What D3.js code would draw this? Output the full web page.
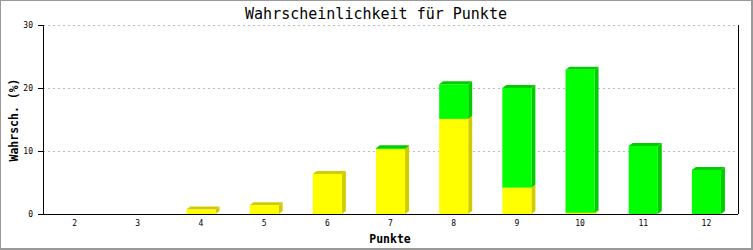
<!DOCTYPE html>
<html><head><meta charset="utf-8">
<script src="https://cdn.jsdelivr.net/npm/d3@7"></script>
<style>
body{margin:0;background:#fff}
svg{display:block}
text{font-family:"DejaVu Sans Mono",monospace}
</style></head>
<body>
<script>
const categories = ["2","3","4","5","6","7","8","9","10","11","12"];
const yellowValues = [0,0,0.7,1.4,6.35,10.3,15.1,4.2,0.2,0,0];
const greenValues  = [0,0,0,0,0,0.15,5.5,15.8,22.7,10.8,7.0];
const yTicks = [0,10,20,30];
const title = "Wahrscheinlichkeit für Punkte";
const xTitle = "Punkte";
const yTitle = "Wahrsch. (%)";

const W=753,H=250;
const svg=d3.select("body").append("svg").attr("width",W).attr("height",H);
svg.append("rect").attr("x",0).attr("y",0).attr("width",W).attr("height",H).attr("fill","#999");
svg.append("rect").attr("x",1).attr("y",1).attr("width",W-3).attr("height",H-3).attr("fill","#fff");

const L=43,R=738,T=25,B=214;
const x=d3.scaleBand().domain(categories).range([L,R]).paddingInner(0.54).paddingOuter(0.27);
const y=d3.scaleLinear().domain([0,30]).range([B,T]);

// grid
svg.append("g").selectAll("line").data(yTicks.filter(d=>d>0)).join("line")
 .attr("x1",L).attr("x2",R).attr("y1",d=>y(d)+0.5).attr("y2",d=>y(d)+0.5)
 .attr("stroke","#bbb").attr("stroke-dasharray","2,3");

// bars
const dx=4,dy=3;
const series=[{vals:yellowValues,front:"#ffff00",side:"#d0cc00"},{vals:greenValues,front:"#00ff00",side:"#00cc00"}];
const bw=x.bandwidth();
categories.forEach((c,i)=>{
  let base=0;
  series.forEach(s=>{
    const v=s.vals[i];
    if(v<=0) return;
    const x0=x(c), x1=x0+bw;
    const yb=y(base), yt=y(base+v);
    const g=svg.append("g");
    g.append("polygon").attr("points",[[x1,yb],[x1+dx,yb-dy],[x1+dx,yt-dy],[x1,yt]].join(" ")).attr("fill",s.side);
    g.append("polygon").attr("points",[[x0,yt],[x0+dx,yt-dy],[x1+dx,yt-dy],[x1,yt]].join(" ")).attr("fill",s.side);
    g.append("rect").attr("x",x0).attr("y",yt).attr("width",bw).attr("height",yb-yt).attr("fill",s.front);
    base+=v;
  });
});

// axes
const ax=svg.append("g").attr("stroke","#000").attr("shape-rendering","crispEdges");
ax.append("line").attr("x1",L).attr("x2",L).attr("y1",T).attr("y2",B);
ax.append("line").attr("x1",R).attr("x2",R).attr("y1",T).attr("y2",B);
ax.append("line").attr("x1",L-5).attr("x2",R).attr("y1",B).attr("y2",B);
ax.selectAll(".tk").data(yTicks).join("line").attr("x1",L-5).attr("x2",L).attr("y1",d=>y(d)).attr("y2",d=>y(d));

svg.append("g").selectAll("text").data(yTicks).join("text")
 .attr("x",33).attr("y",d=>y(d)+3).attr("text-anchor","end").attr("font-size",8).text(d=>d);
svg.append("g").selectAll("text").data(categories).join("text")
 .attr("x",d=>x(d)+bw/2).attr("y",226).attr("text-anchor","middle").attr("font-size",8).text(d=>d);

svg.append("text").attr("x",376).attr("y",19).attr("text-anchor","middle").attr("font-size",15).text(title);
svg.append("text").attr("x",390).attr("y",243).attr("text-anchor","middle").attr("font-size",11.5).attr("font-weight","bold").text(xTitle);
svg.append("text").attr("transform","translate(18,120) rotate(-90)").attr("text-anchor","middle").attr("font-size",11.5).attr("font-weight","bold").text(yTitle);
</script>
</body></html>
